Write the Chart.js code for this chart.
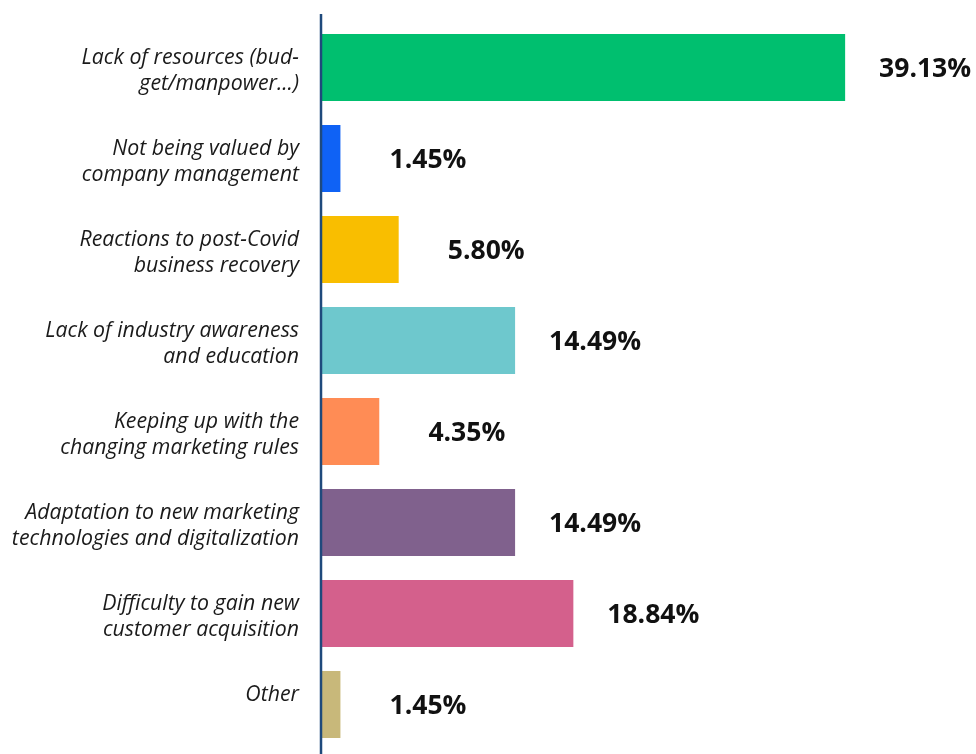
<!DOCTYPE html>
<html>
<head>
<meta charset="utf-8">
<script src="https://cdn.jsdelivr.net/npm/chart.js@4"></script>
<style>
  body { margin: 0; background: #fff; }
  #wrap { width: 976px; height: 754px; position: relative; }
</style>
</head>
<body>
<div id="wrap"><canvas id="myChart"></canvas></div>
<script>
const categories = [
  ['Lack of resources (bud-', 'get/manpower...)'],
  ['Not being valued by', 'company management'],
  ['Reactions to post-Covid', 'business recovery'],
  ['Lack of industry awareness', 'and education'],
  ['Keeping up with the', 'changing marketing rules'],
  ['Adaptation to new marketing', 'technologies and digitalization'],
  ['Difficulty to gain new', 'customer acquisition'],
  ['Other', '']
];
const shares = [39.13, 1.45, 5.80, 14.49, 4.35, 14.49, 18.84, 1.45];
const barColors = ['#00bf6f', '#0f62f5', '#f9be00', '#6ec8cd', '#ff8c55', '#80618d', '#d4608c', '#c8b87a'];

// value text to the right of each bar (right edge at a fixed gap from the bar end)
const valueLabels = {
  id: 'valueLabels',
  afterDatasetsDraw(chart) {
    const ctx = chart.ctx;
    const meta = chart.getDatasetMeta(0);
    ctx.save();
    ctx.font = 'bold 26.5px "Open Sans"';
    ctx.fillStyle = '#111';
    ctx.textAlign = 'right';
    ctx.textBaseline = 'middle';
    meta.data.forEach((bar, i) => {
      ctx.fillText(shares[i].toFixed(2) + '%', bar.x + 126, bar.y + 2);
    });
    ctx.restore();
  }
};

// vertical axis line, a bit taller than the plot area
const axisLine = {
  id: 'axisLine',
  afterDraw(chart) {
    const ctx = chart.ctx;
    const x = chart.chartArea.left;
    ctx.save();
    ctx.strokeStyle = '#1f4a7c';
    ctx.lineWidth = 2.5;
    ctx.beginPath();
    ctx.moveTo(x, chart.chartArea.top - 8);
    ctx.lineTo(x, chart.height);
    ctx.stroke();
    ctx.restore();
  }
};

const ctx = document.getElementById('myChart').getContext('2d');
const myChart = new Chart(ctx, {
  type: 'bar',
  data: {
    labels: categories,
    datasets: [{
      data: shares,
      backgroundColor: barColors,
      borderWidth: 0,
      barPercentage: 1,
      categoryPercentage: 0.737
    }]
  },
  options: {
    indexAxis: 'y',
    responsive: true,
    maintainAspectRatio: false,
    animation: false,
    layout: { padding: { top: 22, bottom: 4, left: 0, right: 0 } },
    plugins: {
      legend: { display: false },
      tooltip: { enabled: false }
    },
    scales: {
      x: {
        display: false,
        min: 0,
        max: 48.9
      },
      y: {
        afterFit: s => {
          s.width = 321;
          s.paddingTop = 0;
          s.paddingBottom = 0;
        },
        grid: { display: false, drawTicks: false },
        border: { display: false },
        ticks: {
          padding: 22,
          labelOffset: 3,
          color: '#1a1a1a',
          font: { family: 'Open Sans', style: 'italic', size: 21.3, lineHeight: 1.22 }
        }
      }
    }
  },
  plugins: [valueLabels, axisLine]
});
</script>
</body>
</html>
